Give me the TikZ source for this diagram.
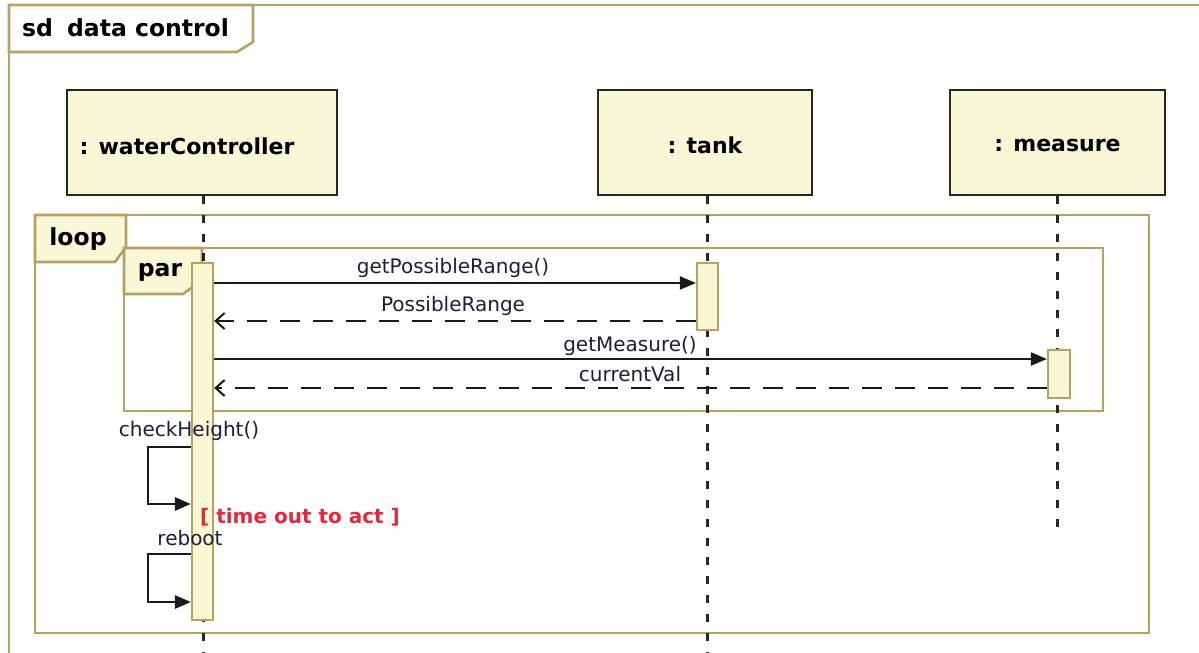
\documentclass[tikz,border=0pt]{standalone}
\usepackage{fontspec}
\setmainfont{DejaVu Sans}
\usetikzlibrary{arrows.meta,calc}
\definecolor{frameC}{RGB}{184,160,98}
\definecolor{boxFill}{RGB}{248,247,214}
\definecolor{actFill}{RGB}{249,247,212}
\definecolor{msgText}{RGB}{30,30,60}
\definecolor{guardRed}{RGB}{230,40,60}
\begin{document}
\begin{tikzpicture}[x=1pt,y=-1pt,
  lifebox/.style={draw=black!85, line width=2.4pt, fill=boxFill, minimum height=105pt, inner sep=0pt},
  lifetext/.style={font=\fontsize{22}{26}\selectfont\bfseries, inner sep=0pt},
  actbar/.style={draw=frameC, line width=2.2pt, fill=actFill, minimum width=21pt, inner sep=0pt},
  lifeline/.style={line width=3pt, black!85, dash pattern=on 8pt off 11pt},
  frameline/.style={draw=frameC, line width=2.6pt},
  tabfill/.style={fill=boxFill, draw=frameC, line width=2.6pt, line join=miter},
  tabtext/.style={font=\fontsize{23.5}{28}\selectfont\bfseries, inner sep=0pt},
  syncmsg/.style={line width=2.2pt, black!90, -{Triangle[length=16pt,width=13pt]}},
  selfmsg/.style={line width=2.6pt, black!90, -{Triangle[length=16pt,width=13pt]}},
  replymsg/.style={line width=2.2pt, black!90, dash pattern=on 20pt off 13pt, -{Straight Barb[length=9pt,width=16pt,line width=2pt]}},
  msglabel/.style={font=\fontsize{20}{24}\selectfont, text=msgText, inner sep=0pt},
  guardtext/.style={font=\fontsize{20}{24}\selectfont\bfseries, text=guardRed, inner sep=0pt}
]
\fill[white] (0,0) rectangle (1199,653);
\useasboundingbox (0,0) rectangle (1199,653);

% outer sd frame
\draw[frameline] (1205,5) -- (9,5) -- (9,660);
\draw[frameline, fill=white, line join=miter] (9,5) -- (253,5) -- (253,42) -- (237,52) -- (9,52) -- cycle;
\node[tabtext, anchor=west] (sdT) at (22,28) {sd\hspace{0.6em}data control};

% lifeline heads
\node[lifebox, minimum width=270pt] (wc) at (202,142.5) {};
\node[lifetext] (wcT) at (187,146) {: waterController};
\node[lifebox, minimum width=214pt] (tank) at (705,142.5) {};
\node[lifetext] (tankT) at (705,145) {: tank};
\node[lifebox, minimum width=215pt] (meas) at (1057.5,142.5) {};
\node[lifetext] (measT) at (1057.5,145) {: measure};

% combined fragments
\draw[frameline] (35,215) rectangle (1149,633);
\draw[tabfill] (35,215) -- (126,215) -- (126,247) -- (115,262) -- (35,262) -- cycle;
\node[tabtext] (loopT) at (78,239) {loop};
\draw[frameline] (124,248) rectangle (1103,411);
\draw[tabfill] (124,248) -- (202,248) -- (202,280) -- (183,294) -- (124,294) -- cycle;
\node[tabtext] (parT) at (160,272) {par};

% lifelines
\coordinate (bot) at (0,660);
\coordinate (measEnd) at (0,533);
\draw[lifeline] ([xshift=1pt]wc.south) -- ([xshift=1pt]wc.south |- bot);
\draw[lifeline] ([xshift=2pt]tank.south) -- ([xshift=2pt]tank.south |- bot);
\draw[lifeline] (meas.south) -- (meas.south |- measEnd);

% activation bars
\node[actbar, minimum height=357pt] (wcA) at (202.5,441.5) {};
\node[actbar, minimum height=67pt] (tA) at (707.5,296.5) {};
\node[actbar, minimum height=48pt, minimum width=22pt] (mA) at (1059,374) {};

% messages
\coordinate (m1) at (0,283);
\coordinate (m2) at (0,321);
\coordinate (m3) at (0,359);
\coordinate (m4) at (0,388);
\draw[syncmsg] (wcA.east |- m1) -- (tA.west |- m1);
\node[msglabel] (l1) at (453,268) {getPossibleRange()};
\draw[replymsg] (tA.west |- m2) -- (wcA.east |- m2);
\node[msglabel] (l2) at (453,306) {PossibleRange};
\draw[syncmsg] (wcA.east |- m3) -- (mA.west |- m3);
\node[msglabel] (l3) at (630,346) {getMeasure()};
\draw[replymsg] (mA.west |- m4) -- (wcA.east |- m4);
\node[msglabel] (l4) at (630,374) {currentVal};

% self messages
\coordinate (s1a) at (148,447);
\coordinate (s1b) at (148,504);
\coordinate (s2a) at (148,554);
\coordinate (s2b) at (148,602);
\draw[selfmsg] (wcA.west |- s1a) -- (s1a) -- (s1b) -- (wcA.west |- s1b);
\draw[selfmsg] (wcA.west |- s2a) -- (s2a) -- (s2b) -- (wcA.west |- s2b);
\node[msglabel] (l5) at (189,431) {checkHeight()};
\node[msglabel] (l6) at (190,538) {reboot};
\node[guardtext] (g1) at (300,517) {[ time out to act ]};
\end{tikzpicture}
\end{document}
